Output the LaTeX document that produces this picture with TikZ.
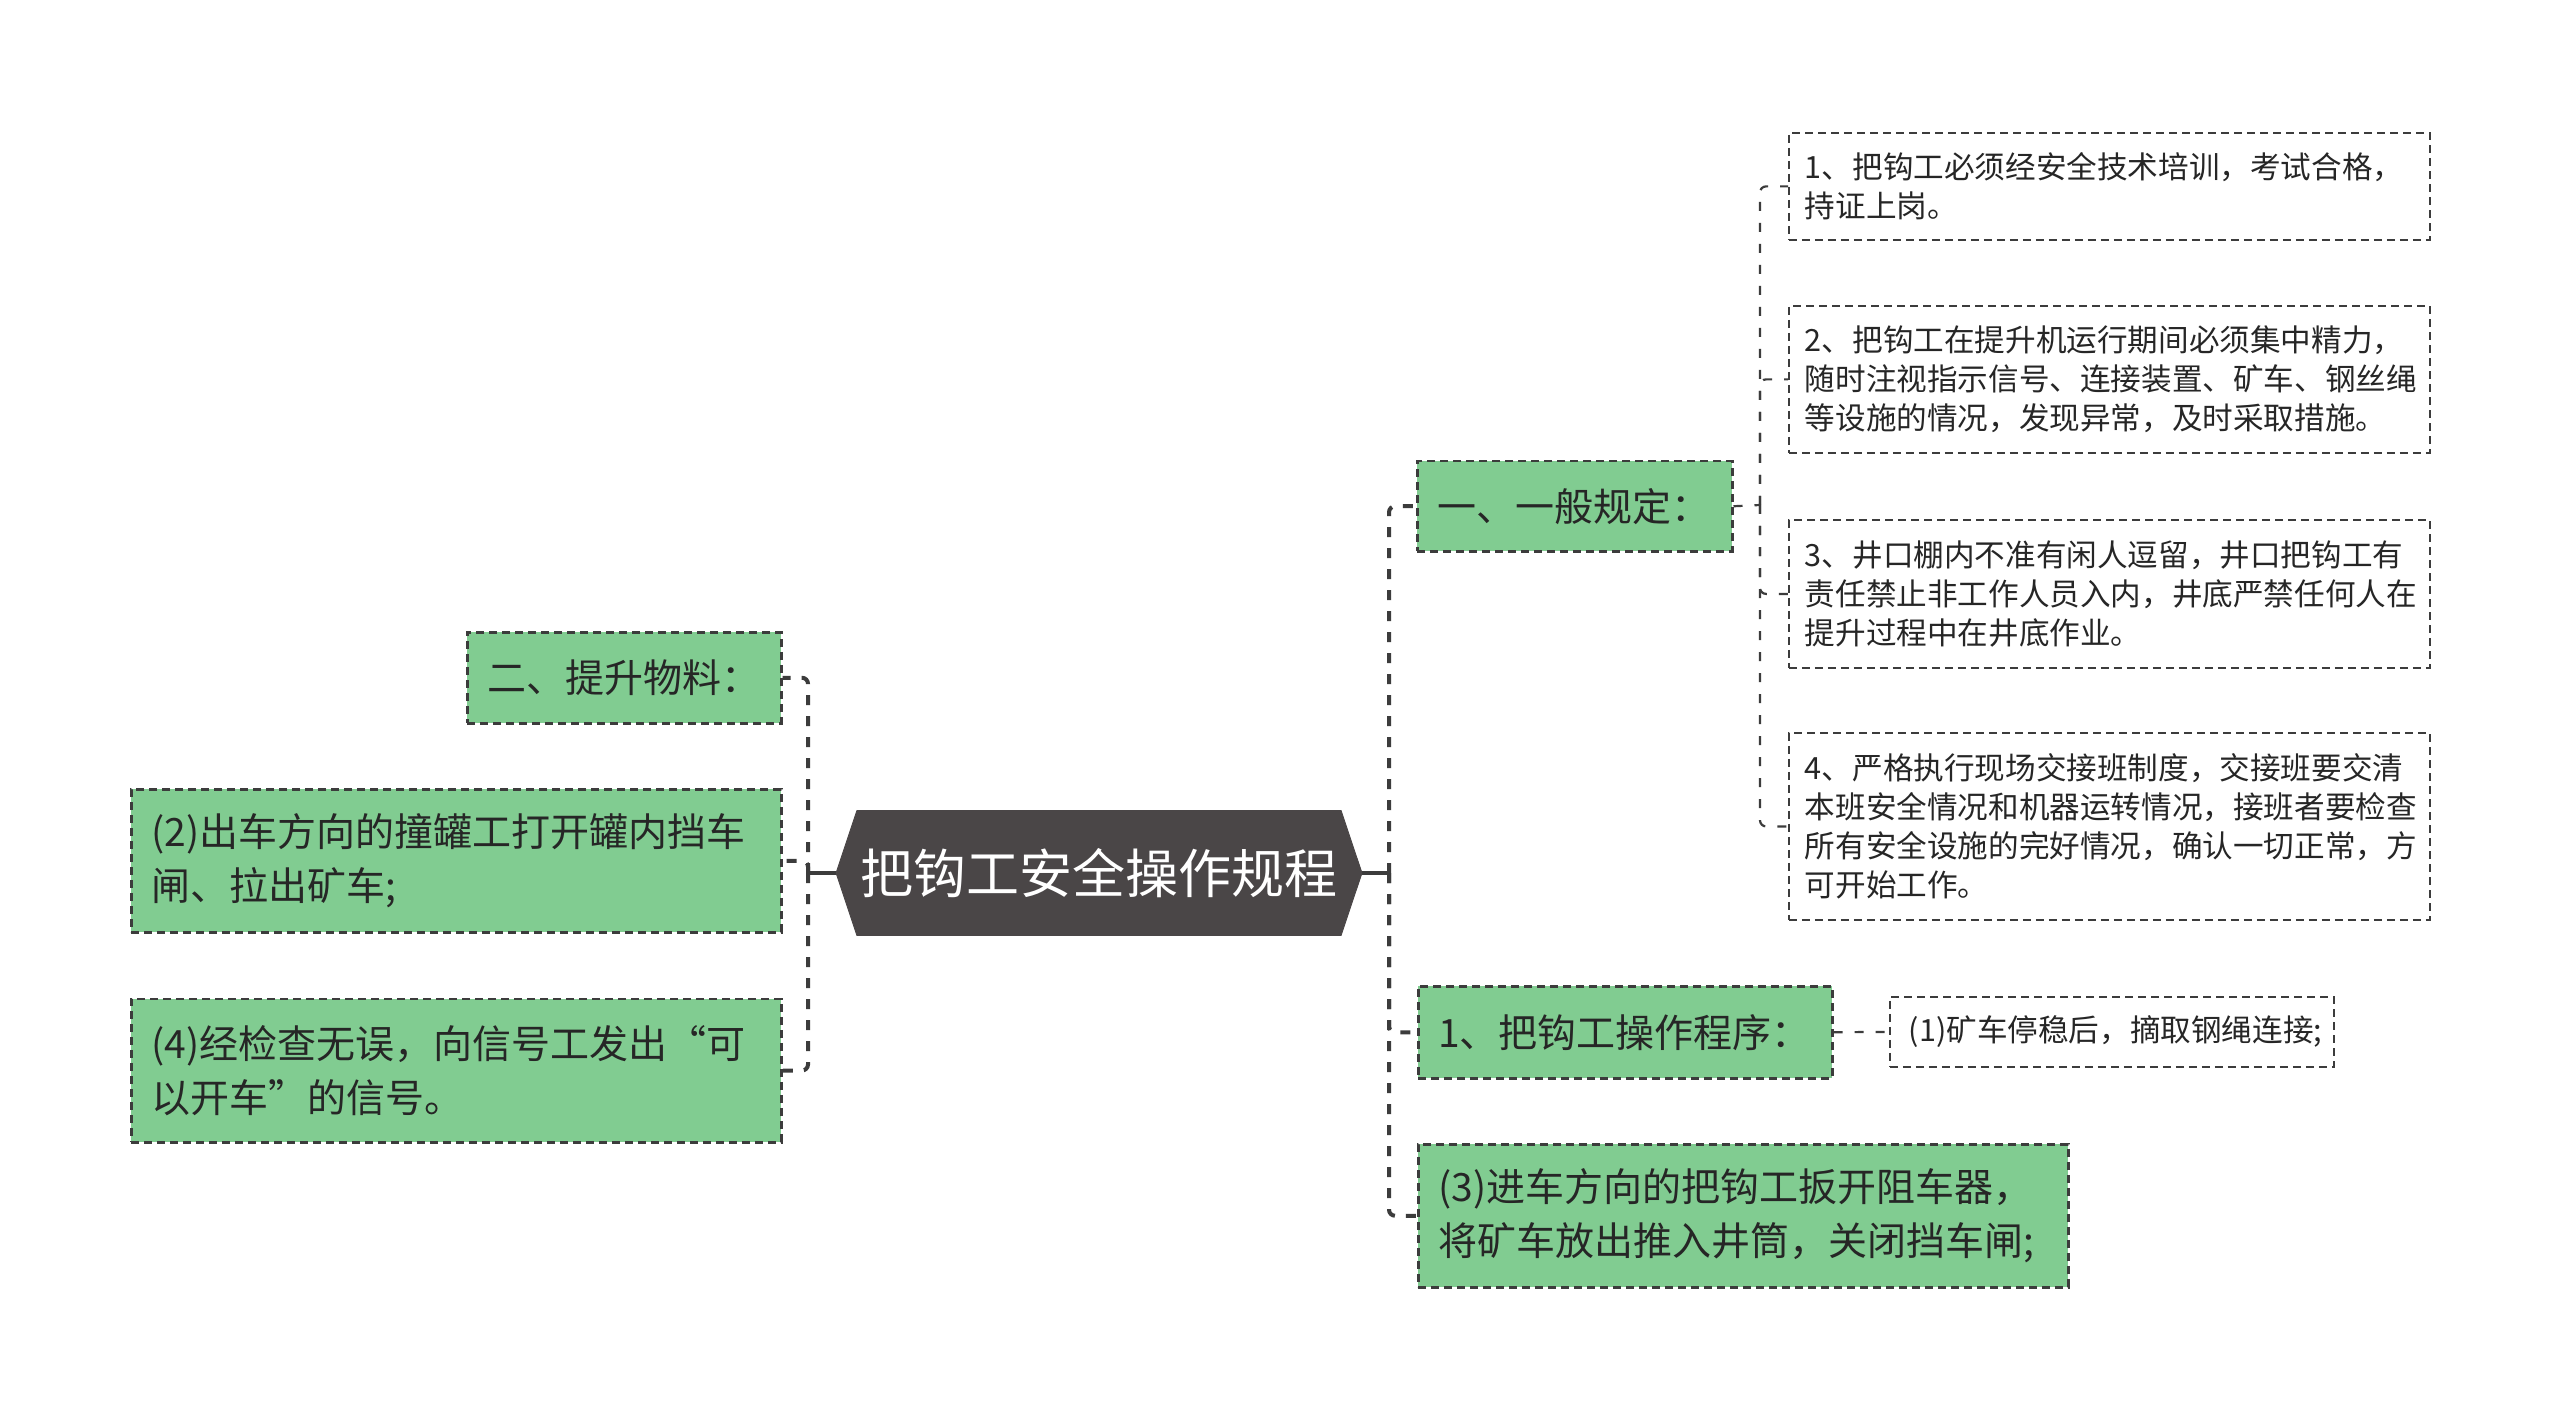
\documentclass[tikz,border=0pt]{standalone}
\usepackage{fontspec}
\setmainfont{Noto Sans CJK SC}
\usepackage{xcolor}
\usepackage{tikz}
\usetikzlibrary{shapes.symbols}

\definecolor{leafgreen}{HTML}{81CC91}
\definecolor{linegray}{HTML}{3C3C3C}
\definecolor{rootgray}{HTML}{4A4647}
\definecolor{textgray}{HTML}{262626}

\tikzset{
  root/.style={shape=signal, signal to=west and east, signal pointer angle=143,
    fill=rootgray, draw=rootgray, text=white, minimum width=263pt, minimum height=62.5pt,
    inner sep=0pt, font=\fontsize{26.5}{30}\selectfont},
  topic/.style={draw=linegray, fill=leafgreen, line width=1.25pt, dash pattern=on 4pt off 2.5pt,
    anchor=north west, inner xsep=10pt, inner ysep=0pt, align=left, text=textgray,
    font=\fontsize{19.5}{27}\selectfont},
  note/.style={draw=linegray, fill=white, line width=0.9pt, dash pattern=on 4pt off 2.5pt,
    anchor=north west, inner xsep=8pt, inner ysep=0pt, align=left, text=textgray,
    font=\fontsize{15.3}{19.5}\selectfont},
  link/.style={draw=linegray, line width=2pt, dash pattern=on 5pt off 5.5pt, rounded corners=3pt},
  sublink/.style={draw=linegray, line width=1.1pt, dash pattern=on 4.5pt off 6pt, rounded corners=3pt},
  stub/.style={draw=linegray, line width=2pt}
}

\begin{document}
\begin{tikzpicture}[x=0.5pt, y=-0.5pt]
        \useasboundingbox (0,0) rectangle (2560,1417);
        \fill[white] (0,0) rectangle (2560,1417);

        \node[root] (root) at (1099,873) {把钩工安全操作规程};

        \node[topic, text width=137.5pt, minimum height=45pt] (n1) at (1416,460) {一、一般规定：};
        \node[topic, text width=187pt, minimum height=46pt] (n2) at (1417,985) {1、把钩工操作程序：};
        \node[topic, text width=305pt, minimum height=71.5pt] (n3) at (1417,1143) {(3)进车方向的把钩工扳开阻车器，\\将矿车放出推入井筒，关闭挡车闸;};
        \node[topic, text width=137pt, minimum height=45.5pt] (n4) at (466,631) {二、提升物料：};
        \node[topic, text width=305pt, minimum height=71.5pt] (n5) at (130,788) {(2)出车方向的撞罐工打开罐内挡车\\闸、拉出矿车;};
        \node[topic, text width=305pt, minimum height=71.75pt] (n6) at (130,997.5) {(4)经检查无误，向信号工发出“可\\以开车”的信号。};

        \node[note, text width=304.5pt, minimum height=53.5pt] (c1) at (1788,132) {1、把钩工必须经安全技术培训，考试合格，\\持证上岗。};
        \node[note, text width=304.5pt, minimum height=73.5pt] (c2) at (1788,305) {2、把钩工在提升机运行期间必须集中精力，\\随时注视指示信号、连接装置、矿车、钢丝绳\\等设施的情况，发现异常，及时采取措施。};
        \node[note, text width=304.5pt, minimum height=74pt] (c3) at (1788,519) {3、井口棚内不准有闲人逗留，井口把钩工有\\责任禁止非工作人员入内，井底严禁任何人在\\提升过程中在井底作业。};
        \node[note, text width=304.5pt, minimum height=93.5pt] (c4) at (1788,732) {4、严格执行现场交接班制度，交接班要交清\\本班安全情况和机器运转情况，接班者要检查\\所有安全设施的完好情况，确认一切正常，方\\可开始工作。};
        \node[note, inner xsep=9.5pt, text width=203pt, minimum height=35pt] (c5) at (1889,996) {(1)矿车停稳后，摘取钢绳连接;};

        \coordinate (rtrunk) at (1389,873);
        \coordinate (ltrunk) at (808,873);
        \coordinate (ctrunk) at (1760,505);

        \draw[stub] (root.east) -- (rtrunk);
        \draw[link] (rtrunk) |- (n1.west);
        \draw[link] (rtrunk) |- (n2.west);
        \draw[link] (rtrunk) |- (n3.west);

        \draw[stub] (root.west) -- (ltrunk);
        \draw[link] (ltrunk) |- (n4.east);
        \draw[link] (ltrunk) |- (n5.east);
        \draw[link] (ltrunk) |- (n6.east);

        \draw[sublink] (n1.east) -- (ctrunk);
        \draw[sublink] (ctrunk) |- (c1.west);
        \draw[sublink] (ctrunk) |- (c2.west);
        \draw[sublink] (ctrunk) |- (c3.west);
        \draw[sublink] (ctrunk) |- (c4.west);

        \draw[sublink] (n2.east) -- (c5.west);

\end{tikzpicture}
\end{document}
